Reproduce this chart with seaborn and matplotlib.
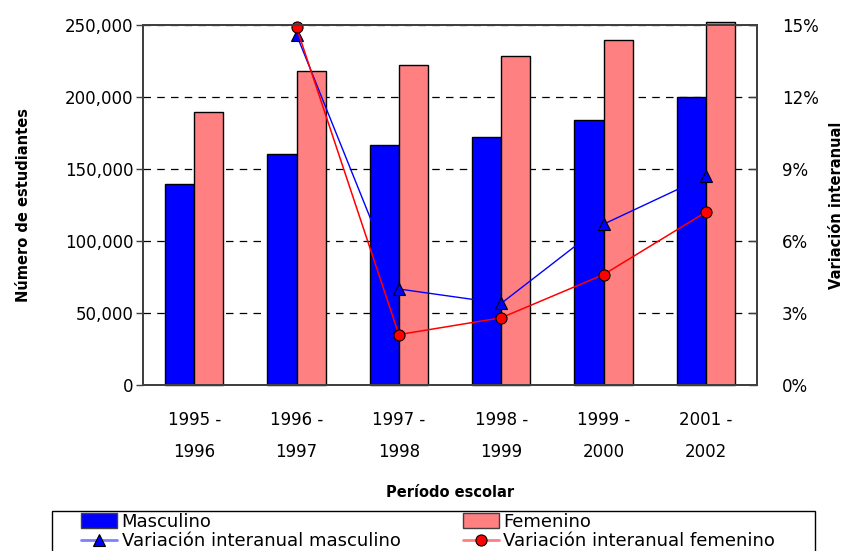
import numpy as np
import pandas as pd
import matplotlib
matplotlib.use("Agg")
import matplotlib.pyplot as plt
import matplotlib.ticker as mticker
from matplotlib.patches import Rectangle, Patch
from matplotlib.lines import Line2D
import seaborn as sns

# ---- data ----
periods = ["1995 - 1996", "1996 - 1997", "1997 - 1998", "1998 - 1999", "1999 - 2000", "2001 - 2002"]
masculino = [139600, 160300, 166500, 172300, 183900, 199900]
femenino = [189500, 218200, 222400, 228700, 239300, 252100]
var_masc = [np.nan, 14.6, 4.0, 3.4, 6.7, 8.7]
var_fem = [np.nan, 14.9, 2.1, 2.8, 4.6, 7.2]
series_names = ["Masculino", "Femenino"]
var_names = ["Variación interanual masculino", "Variación interanual femenino"]
tick_labels = [p.replace(" - ", " -\n") for p in periods]

sns.set_theme(style="white")
plt.rcParams['font.family'] = ['DejaVu Sans']
plt.rcParams['text.color'] = 'black'
plt.rcParams['axes.labelcolor'] = 'black'
plt.rcParams['xtick.color'] = 'black'
plt.rcParams['ytick.color'] = 'black'

df = pd.DataFrame({
    "periodo": periods * 2,
    "valor": masculino + femenino,
    "sexo": [series_names[0]] * len(periods) + [series_names[1]] * len(periods),
})

W, H = 844, 551
fig = plt.figure(figsize=(W / 100, H / 100), dpi=100)
ax = fig.add_axes([143 / W, 1 - 385 / H, (757 - 143) / W, 360 / H])

colors = {"Masculino": "#0000FF", "Femenino": "#FF8080"}
sns.barplot(data=df, x="periodo", y="valor", hue="sexo", order=periods,
            hue_order=series_names, palette=colors, saturation=1, width=0.57,
            edgecolor="black", linewidth=1, ax=ax, legend=False)
for p in ax.patches:
    p.set_clip_on(False)

ax.set_ylim(0, 250000)
ax.set_xlim(-0.5, len(periods) - 0.5)
ax.yaxis.set_major_locator(mticker.MultipleLocator(50000))
ax.yaxis.set_major_formatter(mticker.FuncFormatter(lambda v, _: f"{v:,.0f}"))
ax.set_axisbelow(True)
ax.grid(axis="y", color="black", linestyle=(0, (6, 5)), linewidth=0.9)
ax.grid(axis="x", visible=False)

ax.set_xticks(range(len(periods)))
ax.set_xticklabels(tick_labels, fontsize=12, linespacing=2.0)
ax.set_xticks(np.arange(-0.5, len(periods), 1.0), minor=True)
ax.tick_params(axis="x", which="major", length=0, pad=19)
ax.tick_params(axis="x", which="minor", length=7, direction="out", width=1, color="#404040")
ax.tick_params(axis="y", length=5, direction="out", width=1, color="#404040", labelsize=12, pad=2, left=True)

ax.set_xlabel("Período escolar", fontsize=10.5, fontweight="bold")
ax.xaxis.set_label_coords(0.5, -0.278)
ax.set_ylabel("Número de estudiantes", fontsize=10.5, fontweight="bold")
ax.yaxis.set_label_coords(-0.183, 0.5)

for s in ax.spines.values():
    s.set_color("#404040")
    s.set_linewidth(1.3)

ax2 = ax.twinx()
xpos = np.arange(len(periods))
sns.lineplot(x=xpos, y=var_masc, ax=ax2, color="#0000FF", linewidth=1,
             marker="^", markersize=9, markeredgecolor="black", markeredgewidth=0.8,
             markerfacecolor="#0000FF", legend=False)
sns.lineplot(x=xpos, y=var_fem, ax=ax2, color="#FF0000", linewidth=1.1,
             marker="o", markersize=8, markeredgecolor="black", markeredgewidth=0.8,
             markerfacecolor="#FF0000", legend=False)
for ln in ax2.lines:
    ln.set_clip_on(False)
ax2.set_ylim(0, 15)
ax2.set_xlim(-0.5, len(periods) - 0.5)
ax2.yaxis.set_major_locator(mticker.MultipleLocator(3))
ax2.yaxis.set_major_formatter(mticker.FuncFormatter(lambda v, _: f"{v:.0f}%"))
ax2.tick_params(axis="y", length=6, direction="in", width=1, color="#404040", labelsize=12, pad=18, right=True)
ax2.set_ylabel("Variación interanual", fontsize=10.5, fontweight="bold")
ax2.yaxis.set_label_coords(1.118, 0.5)
ax2.grid(False)
for s in ax2.spines.values():
    s.set_color("#404040")
    s.set_linewidth(1.3)

# legend
handles = [
    Patch(facecolor=colors["Masculino"], edgecolor="#404040", linewidth=1),
    Line2D([], [], color="#8080FF", linewidth=2, marker="^", markersize=8,
           markerfacecolor="#0000FF", markeredgecolor="black", markeredgewidth=0.8),
    Patch(facecolor=colors["Femenino"], edgecolor="#404040", linewidth=1),
    Line2D([], [], color="#FF8080", linewidth=2, marker="o", markersize=8,
           markerfacecolor="#FF0000", markeredgecolor="black", markeredgewidth=0.8),
]
labels = [series_names[0], var_names[0], series_names[1], var_names[1]]
fig.legend(handles, labels, loc="upper left", bbox_to_anchor=(81 / W, 1 - 513 / H),
           ncol=2, frameon=False, borderpad=0, borderaxespad=0,
           handlelength=2.0, handleheight=0.9, handletextpad=0.25,
           labelspacing=0.08, columnspacing=3.45,
           prop={"family": ["DejaVu Sans"], "size": 13})
fig.patches.append(Rectangle((52 / W, -0.05), (815 - 52) / W, (1 - 511 / H) + 0.05,
                             transform=fig.transFigure, fill=False,
                             edgecolor="black", linewidth=1))

fig.savefig("out.png", dpi=100)
